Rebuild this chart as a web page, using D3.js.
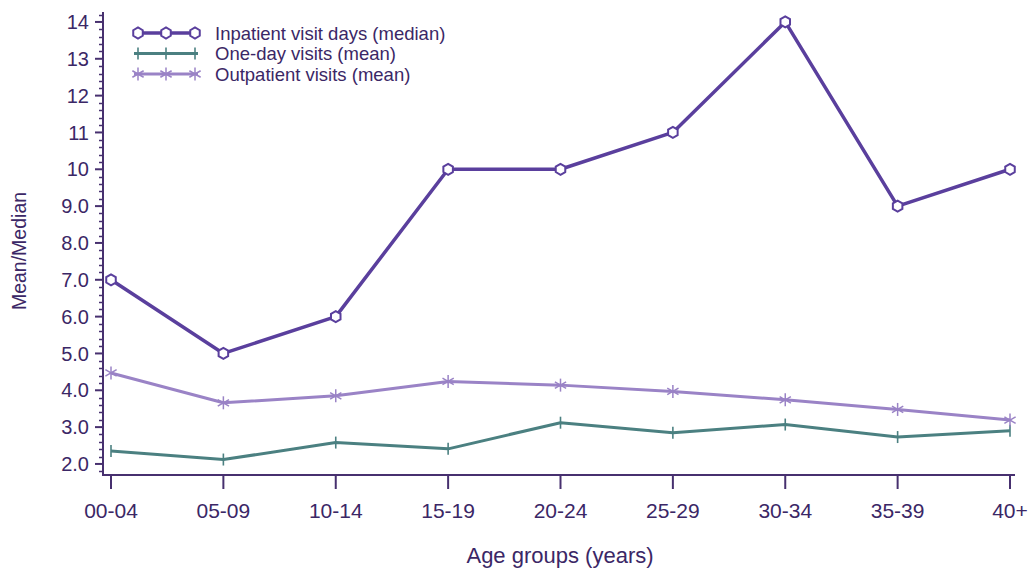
<!DOCTYPE html>
<html>
<head>
<meta charset="utf-8">
<script src="https://cdn.jsdelivr.net/npm/d3@7"></script>
<style>
  html, body { margin: 0; padding: 0; background: #ffffff; }
  svg { display: block; font-family: "Liberation Sans", Arial, sans-serif; }
</style>
</head>
<body>
<svg id="chart" width="1028" height="570"></svg>
<script>
// Age groups along the x axis
const ageGroups = ["00-04", "05-09", "10-14", "15-19", "20-24", "25-29", "30-34", "35-39", "40+"];

// Series values per age group
const inpatientDaysMedian = [7, 5, 6, 10, 10, 11, 14, 9, 10];
const oneDayVisitsMean    = [2.35, 2.12, 2.58, 2.41, 3.12, 2.85, 3.07, 2.73, 2.90];
const outpatientMean      = [4.47, 3.66, 3.85, 4.24, 4.14, 3.97, 3.74, 3.48, 3.19];

// Y tick values and their labels
const yTicks = [2, 3, 4, 5, 6, 7, 8, 9, 10, 11, 12, 13, 14];
const yTickLabels = ["2.0", "3.0", "4.0", "5.0", "6.0", "7.0", "8.0", "9.0", "10", "11", "12", "13", "14"];

const seriesNames = ["Inpatient visit days (median)", "One-day visits (mean)", "Outpatient visits (mean)"];

const axisColor = "#47306f";
const textColor = "#3b2766";
const colors = ["#5a3f9d", "#4b8081", "#9a83c6"];

const svg = d3.select("#chart");

const x = d3.scalePoint().domain(ageGroups).range([111, 1010]);
const y = d3.scaleLinear().domain([1.7, 14.27]).range([475, 12]);

// Axes
const axisLeftX = 103, axisBottomY = 475;

const gy = svg.append("g");
gy.append("line")
  .attr("x1", axisLeftX).attr("x2", axisLeftX)
  .attr("y1", y(14.27)).attr("y2", axisBottomY)
  .attr("stroke", axisColor).attr("stroke-width", 2);

// minor ticks every 0.2
const minorTicks = d3.range(1.8, 14.21, 0.2).filter(v => Math.abs(v - Math.round(v)) > 0.01);
gy.selectAll(".minor").data(minorTicks).join("line")
  .attr("x1", axisLeftX - 4).attr("x2", axisLeftX)
  .attr("y1", d => Math.round(y(d)) + 0.5).attr("y2", d => Math.round(y(d)) + 0.5)
  .attr("stroke", axisColor).attr("stroke-width", 1.5);

gy.selectAll(".major").data(yTicks).join("line")
  .attr("x1", axisLeftX - 8).attr("x2", axisLeftX)
  .attr("y1", d => y(d)).attr("y2", d => y(d))
  .attr("stroke", axisColor).attr("stroke-width", 2);

gy.selectAll(".ylabel").data(yTicks).join("text")
  .attr("x", axisLeftX - 14).attr("y", d => y(d))
  .attr("dy", "0.36em")
  .attr("text-anchor", "end")
  .attr("fill", textColor)
  .attr("font-size", 20)
  .text((d, i) => yTickLabels[i]);

const gx = svg.append("g");
gx.append("line")
  .attr("x1", axisLeftX - 1).attr("x2", 1015)
  .attr("y1", axisBottomY).attr("y2", axisBottomY)
  .attr("stroke", axisColor).attr("stroke-width", 2);
gx.selectAll(".xtick").data(ageGroups).join("line")
  .attr("x1", d => x(d)).attr("x2", d => x(d))
  .attr("y1", axisBottomY).attr("y2", axisBottomY + 14)
  .attr("stroke", axisColor).attr("stroke-width", 2);
gx.selectAll(".xlabel").data(ageGroups).join("text")
  .attr("x", d => x(d)).attr("y", 518)
  .attr("text-anchor", "middle")
  .attr("fill", textColor)
  .attr("font-size", 21)
  .text(d => d);

// Axis titles
svg.append("text")
  .attr("x", 560).attr("y", 563)
  .attr("text-anchor", "middle")
  .attr("fill", textColor)
  .attr("font-size", 22)
  .text("Age groups (years)");

svg.append("text")
  .attr("transform", "translate(26,251) rotate(-90)")
  .attr("text-anchor", "middle")
  .attr("fill", textColor)
  .attr("font-size", 19.5)
  .text("Mean/Median");

// Marker drawers
function hexPath(r) {
  const pts = d3.range(6).map(i => {
    const a = Math.PI / 6 + i * Math.PI / 3;
    return [r * Math.cos(a), r * Math.sin(a)];
  });
  return "M" + pts.map(p => p.join(",")).join("L") + "Z";
}
function drawHex(g, cx, cy, color) {
  g.append("path").attr("d", hexPath(5.5))
    .attr("transform", `translate(${cx},${cy})`)
    .attr("fill", "#ffffff").attr("stroke", color).attr("stroke-width", 2);
}
function drawPlus(g, cx, cy, color) {
  g.append("line").attr("x1", cx).attr("x2", cx).attr("y1", cy - 6).attr("y2", cy + 6)
    .attr("stroke", color).attr("stroke-width", 1.6);
}
function drawStar(g, cx, cy, color) {
  const r = 6.5;
  [90, 30, -30].forEach(deg => {
    const a = deg * Math.PI / 180;
    g.append("line")
      .attr("x1", cx - r * Math.cos(a)).attr("y1", cy - r * Math.sin(a))
      .attr("x2", cx + r * Math.cos(a)).attr("y2", cy + r * Math.sin(a))
      .attr("stroke", color).attr("stroke-width", 1.5);
  });
}

const line = d3.line().x((d, i) => x(ageGroups[i])).y(d => y(d));

const series = [
  { values: oneDayVisitsMean, color: colors[1], width: 3, marker: drawPlus },
  { values: outpatientMean, color: colors[2], width: 3, marker: drawStar },
  { values: inpatientDaysMedian, color: colors[0], width: 3.5, marker: drawHex }
];

series.forEach(s => {
  const g = svg.append("g");
  g.append("path").datum(s.values)
    .attr("d", line)
    .attr("fill", "none")
    .attr("stroke", s.color)
    .attr("stroke-width", s.width)
    .attr("stroke-linejoin", "round");
  s.values.forEach((v, i) => s.marker(g, x(ageGroups[i]), y(v), s.color));
});

// Legend
const legend = svg.append("g");
const legendRows = [
  { name: seriesNames[0], color: colors[0], marker: drawHex, width: 3.5 },
  { name: seriesNames[1], color: colors[1], marker: drawPlus, width: 3 },
  { name: seriesNames[2], color: colors[2], marker: drawStar, width: 3 }
];
legendRows.forEach((r, i) => {
  const ly = 33 + i * 20.5;
  legend.append("line")
    .attr("x1", 134).attr("x2", 198).attr("y1", ly).attr("y2", ly)
    .attr("stroke", r.color).attr("stroke-width", r.width);
  [138, 166, 195].forEach(mx => r.marker(legend, mx, ly, r.color));
  legend.append("text")
    .attr("x", 215).attr("y", ly).attr("dy", "0.36em")
    .attr("fill", textColor)
    .attr("font-size", 18.5)
    .text(r.name);
});
</script>
</body>
</html>
